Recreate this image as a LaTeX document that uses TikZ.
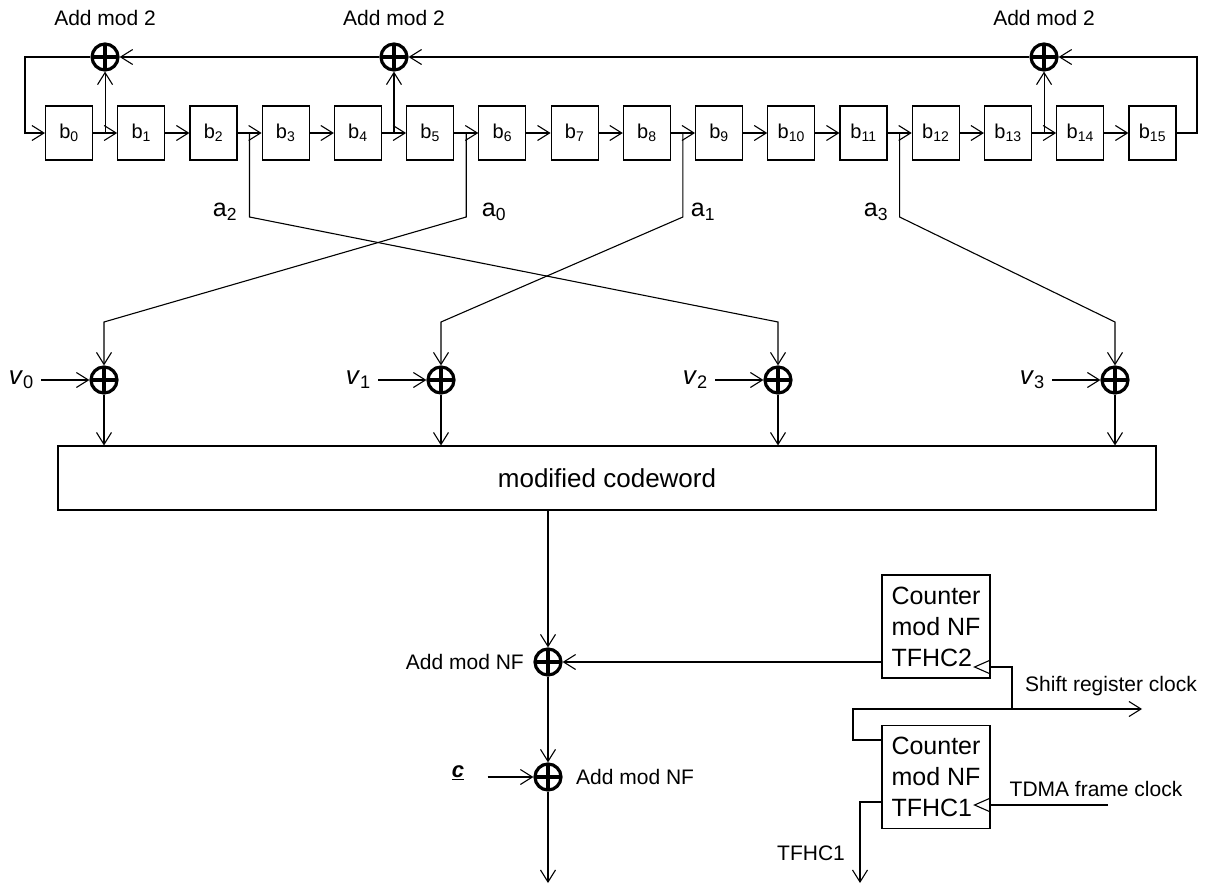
\documentclass[tikz,border=0pt]{standalone}
\usepackage{fontspec}
\setmainfont{Liberation Sans}
\usetikzlibrary{arrows.meta,positioning,calc}
\tikzset{reg/.style={rectangle, draw, minimum width=47pt, minimum height=54pt, inner sep=0pt, font=\fontsize{20}{24}\selectfont},
  xor/.style={circle, draw, line width=3.2pt, minimum size=26pt, inner sep=0pt, path picture={\draw[line width=3.2pt] (path picture bounding box.north) -- (path picture bounding box.south) (path picture bounding box.west) -- (path picture bounding box.east);}},
  lbl/.style={inner sep=1pt, font=\fontsize{21}{25}\selectfont},
  big/.style={inner sep=1pt, font=\fontsize{25}{30}\selectfont},
  counter/.style={rectangle, draw, minimum width=108pt, minimum height=103pt, align=left, inner sep=4pt, font=\fontsize{25}{31}\selectfont}}

\begin{document}
\begin{tikzpicture}[x=1pt,y=-1pt,line width=1.1pt,>={Straight Barb[length=12pt,width=15pt]}]
	\useasboundingbox (0,0) rectangle (1210,886);
	% shift register
	\foreach \i in {0,...,15}
		\node[reg] (b\i) at ({69+72.23*\i},133) {b\textsubscript{\i}};
	\foreach \i [count=\j from 1] in {0,...,14}
		\draw[->] (b\i.east) -- (b\j.west);
	\foreach \i/\n in {0/ta,4/tb,13/tc,2/d2,5/d0,8/d1,11/d3}
		\coordinate (\n) at ($(b\i.east)+(12,0)$);
	% feedback
	\node[xor] (xa) at (ta |- 0,57) {};
	\node[xor] (xb) at (tb |- 0,57) {};
	\node[xor] (xc) at (tc |- 0,57) {};
	\foreach \n in {xa,xb,xc}
		\node[lbl, above=15pt of \n] (\n-l) {Add mod 2};
	\draw[->] (ta) -- (xa);
	\draw[->] (tb) -- (xb);
	\draw[->] (tc) -- (xc);
	\draw[->] (xc) -- (xb);
	\draw[->] (xb) -- (xa);
	\coordinate (lc) at (25,57);
	\coordinate (rc) at (1197,57);
	\draw[->] (xa) -- (lc) |- (b0.west);
	\draw[->] (b15.east) -| (rc) -- (xc);
	% codeword adders
	\foreach \k/\x in {0/104,1/441,2/778,3/1115} {
		\node[xor] (v\k) at (\x,380) {};
		\node[big, font=\fontsize{26}{30}\selectfont, left=54pt of v\k] (vl\k) {\textit{v}\textsubscript{\k}};
		\draw[->, shorten <=6pt] (vl\k.east) -- (v\k);
	}
	\foreach \k in {0,...,3}
		\draw[->] (d\k) -- (d\k |- 0,217) -- (v\k |- 0,322) -- (v\k);
	\node[big] (a0) at (494,212) {a\textsubscript{0}};
	\node[big] (a1) at (703,212) {a\textsubscript{1}};
	\node[big] (a2) at (225,212) {a\textsubscript{2}};
	\node[big] (a3) at (876,212) {a\textsubscript{3}};
	\node[draw, minimum width=1098pt, minimum height=64pt, font=\fontsize{26}{30}\selectfont] (cw) at (607,478) {modified codeword};
	\foreach \k in {0,...,3}
		\draw[->] (v\k) -- (v\k |- cw.north);
	% frame counter adders
	\node[xor] (nfa) at (548,662) {};
	\node[xor] (nfb) at (548,777) {};
	\coordinate (out) at (548,883);
	\draw[->] (cw.south -| nfa) -- (nfa);
	\draw[->] (nfa) -- (nfb);
	\draw[->] (nfb) -- (out);
	\node[lbl, left=8pt of nfa] (nfal) {Add mod NF};
	\node[lbl, right=12pt of nfb] (nfbl) {Add mod NF};
	\node[lbl, font=\fontsize{22}{26}\selectfont\bfseries\itshape] (cin) at (458,773) {\underline{c}};
	\draw[->] ($(cin.east |- nfb)+(22,0)$) -- (nfb);
	% counters
	\node[counter] (cnt2) at (936,626.5) {Counter\\mod NF\\TFHC2};
	\node[counter] (cnt1) at (936,777) {Counter\\mod NF\\TFHC1};
	\draw[->] (cnt2.west |- nfa) -- (nfa);
	\coordinate (clk2) at (cnt2.east |- 0,667);
	\coordinate (clk1) at (cnt1.east |- 0,805);
	\foreach \c in {clk1,clk2}
		\draw ([yshift=7pt]\c) -- ([xshift=-16pt]\c) -- ([yshift=-7pt]\c);
	\coordinate (sj) at (1012,709);
	\coordinate (sk) at (853,709);
	\coordinate (srout) at (1142,709);
	\draw (clk2) -| (sj);
	\draw[->] (sj) -- (srout);
	\draw (sj) -- (sk) |- (cnt1.west |- 0,740);
	\node[lbl] (srl) at (1111,686) {Shift register clock};
	\coordinate (tdin) at (1108,805);
	\draw (tdin) -- (clk1);
	\node[lbl] (tdl) at (1096,789) {TDMA frame clock};
	\coordinate (tfo) at (860,883);
	\draw[->] (cnt1.west |- 0,802) -| (tfo);
	\node[lbl] (tfl) at (811,853) {TFHC1};
\end{tikzpicture}
\end{document}
